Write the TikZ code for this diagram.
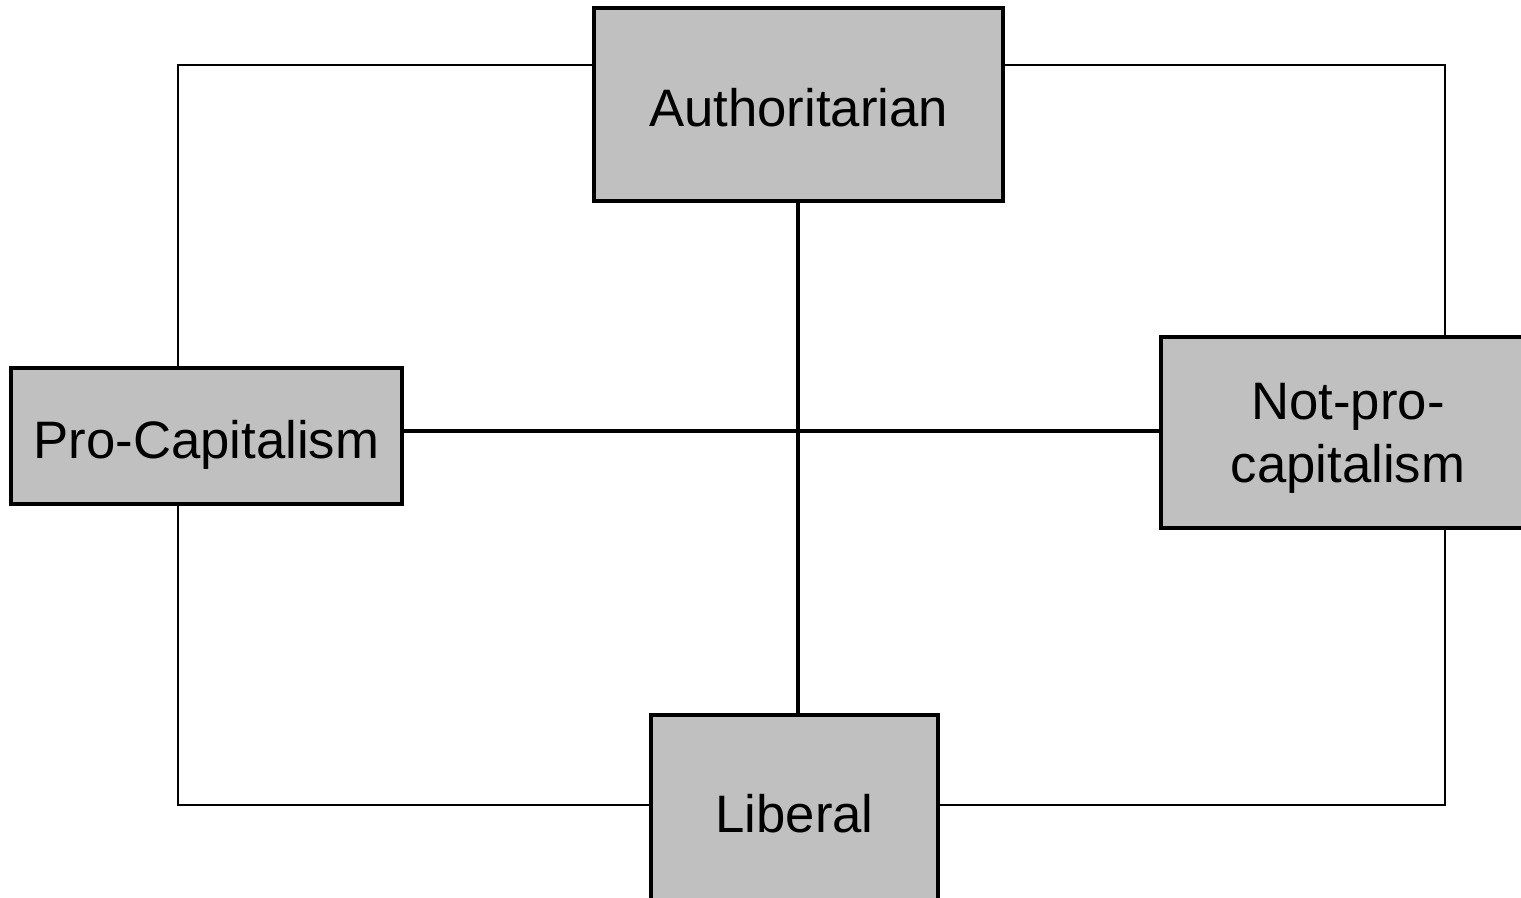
\documentclass[tikz,border=0pt]{standalone}
\usepackage{fontspec}
\setmainfont{Liberation Sans}
\usetikzlibrary{positioning,calc}
\definecolor{boxGray}{RGB}{192,192,192}
\begin{document}
\begin{tikzpicture}[x=0.02cm,y=-0.02cm,every node/.style={font=\fontsize{30}{36}\selectfont}]
\tikzstyle{pole}=[rectangle, draw=black, fill=boxGray, line width=1.8pt, align=center, inner sep=0pt]
\tikzstyle{oneline}=[text height=25.6pt, text depth=0pt]
\tikzstyle{axis}=[line width=1.8pt]
\tikzstyle{frame}=[line width=0.85pt]
\clip (0,0) rectangle (1521,897);
\fill[white] (0,0) rectangle (1521,897);
% the four poles
\node[pole, oneline, minimum width=8.18cm, minimum height=3.86cm] (auth) at (798.5,104.5) {Authoritarian};
\node[pole, oneline, minimum width=7.82cm, minimum height=2.72cm] (pro) at (206.5,436) {Pro-Capitalism};
\node[pole, text depth=0pt, minimum width=7.48cm, minimum height=3.82cm] (npc) at (1348,432.5) {Not-pro-\\capitalism};
\node[pole, oneline, minimum width=5.74cm, minimum height=3.8cm] (lib) at (794.5,810) {Liberal};
% crossing axes
\coordinate (mid) at (798,431);
\draw[axis] (mid |- auth.south) -- (mid |- lib.north);
\draw[axis] (mid -| pro.east) -- (mid -| npc.west);
% outer frame
\coordinate (tl) at (178,65);
\coordinate (tr) at (1445,65);
\coordinate (bl) at (178,805);
\coordinate (br) at (1445,805);
\draw[frame] (tl -| auth.west) -- (tl) -- (tl |- pro.north);
\draw[frame] (tr -| auth.east) -- (tr) -- (tr |- npc.north);
\draw[frame] (bl |- pro.south) -- (bl) -- (bl -| lib.west);
\draw[frame] (br |- npc.south) -- (br) -- (br -| lib.east);
\end{tikzpicture}
\end{document}
